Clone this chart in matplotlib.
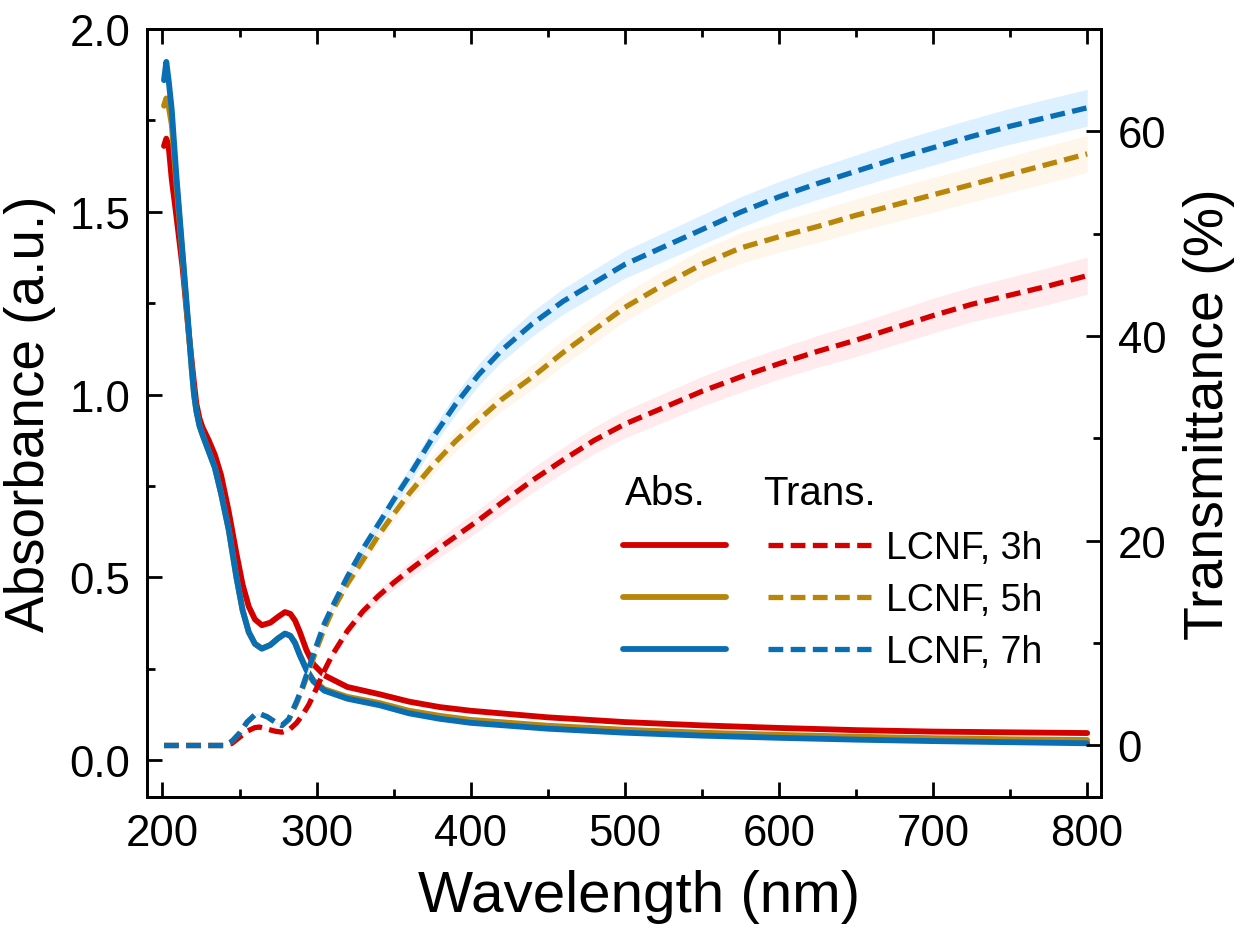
import matplotlib
matplotlib.use("Agg")
import matplotlib.pyplot as plt
from matplotlib.ticker import MultipleLocator, FormatStrFormatter

plt.rcParams['font.family'] = ['Liberation Sans', 'DejaVu Sans']

# absorbance spectra (a.u.)
wl_abs = [201, 202.5, 204, 206, 209, 213, 217, 219, 220.5, 222, 224, 226, 230,
          234, 238, 243, 248, 252, 256, 260, 264.5, 270, 275, 279.5, 283, 286,
          289, 293.5, 298, 305, 320, 341, 360, 380, 400, 450, 500, 550, 600, 650,
          700, 750, 800]
abs_3h = [1.68, 1.70, 1.68, 1.59, 1.49, 1.35, 1.17, 1.09, 1.03, 0.975, 0.935,
          0.91, 0.875, 0.835, 0.78, 0.68, 0.565, 0.48, 0.42, 0.385, 0.369, 0.376,
          0.392, 0.405, 0.400, 0.382, 0.352, 0.30, 0.262, 0.232, 0.20, 0.18, 0.16,
          0.145, 0.135, 0.117, 0.104, 0.095, 0.088, 0.082, 0.078, 0.076, 0.074]
abs_5h = [1.79, 1.81, 1.79, 1.74, 1.58, 1.38, 1.17, 1.07, 1.00, 0.955, 0.915,
          0.89, 0.845, 0.80, 0.73, 0.63, 0.50, 0.41, 0.35, 0.318, 0.305, 0.315,
          0.333, 0.346, 0.340, 0.322, 0.29, 0.248, 0.218, 0.194, 0.173, 0.156,
          0.135, 0.121, 0.110, 0.094, 0.083, 0.075, 0.069, 0.064, 0.060, 0.057,
          0.055]
abs_7h = [1.86, 1.91, 1.86, 1.78, 1.60, 1.39, 1.18, 1.07, 1.00, 0.955, 0.915,
          0.89, 0.845, 0.80, 0.73, 0.63, 0.50, 0.41, 0.35, 0.318, 0.305, 0.315,
          0.333, 0.346, 0.340, 0.320, 0.288, 0.246, 0.215, 0.19, 0.168, 0.15,
          0.128, 0.113, 0.102, 0.086, 0.075, 0.067, 0.061, 0.056, 0.052, 0.049,
          0.046]

# transmittance spectra (%)
wl_tr = [201, 240, 245, 250, 255, 260, 263, 268, 273, 277.5, 282, 287, 291, 295,
         300, 305, 310, 320, 330, 340, 350, 360, 375, 390, 405, 420, 440, 460,
         480, 500, 525, 550, 575, 600, 625, 650, 675, 700, 725, 750, 775, 800]
tr_3h = [0, 0, 0.2, 0.8, 1.4, 1.75, 1.8, 1.6, 1.4, 1.3, 1.5, 2.2, 3.0, 4.0,
         5.6, 7.3, 8.8, 11.2, 13.1, 14.6, 15.9, 17.1, 18.8, 20.4, 22.0, 23.7, 25.9,
         27.9, 29.8, 31.4, 33.0, 34.6, 36.0, 37.3, 38.5, 39.6, 40.8, 42.0, 43.1,
         44.0, 44.9, 45.9]
tr_5h = [0, 0, 0.4, 1.2, 2.3, 3.0, 3.1, 2.8, 2.3, 1.95, 2.5, 4.1, 5.6, 7.3,
         9.4, 11.4, 13.1, 15.8, 18.1, 20.5, 22.6, 24.6, 27.3, 29.7, 31.8, 33.8, 36.0,
         38.4, 40.6, 42.8, 45.0, 47.0, 48.6, 49.7, 50.7, 51.8, 52.8, 53.8, 54.8,
         55.8, 56.8, 57.8]
tr_7h = [0, 0, 0.4, 1.2, 2.3, 3.0, 3.1, 2.8, 2.3, 1.95, 2.6, 4.3, 5.8, 7.6,
         9.8, 11.9, 13.5, 16.5, 19.2, 21.6, 24.0, 26.3, 30.0, 33.3, 36.2, 38.6, 41.2,
         43.4, 45.2, 47.0, 48.7, 50.4, 52.1, 53.6, 54.9, 56.1, 57.3, 58.4, 59.5,
         60.5, 61.4, 62.3]
# spread of the transmittance measurement (+/- %)
tr_spread = [0, 0, 0, 0.05, 0.05, 0.1, 0.1, 0.1, 0.1, 0.1, 0.1, 0.15, 0.15, 0.2,
             0.2, 0.3, 0.35, 0.45, 0.55, 0.6, 0.7, 0.8, 0.9, 1.0, 1.05, 1.1, 1.2,
             1.25, 1.3, 1.35, 1.4, 1.45, 1.5, 1.5, 1.55, 1.6, 1.65, 1.7, 1.7,
             1.75, 1.8, 1.8]

labels = ['LCNF, 3h', 'LCNF, 5h', 'LCNF, 7h']
colors = ['#D40000', '#B8860B', '#0A6EB4']
bands = ['#FFEBEE', '#FEF6EA', '#DDF0FF']

fig = plt.figure(figsize=(12.43, 9.37), dpi=100)
ax = fig.add_axes([0.1183, 0.1487, 0.7675, 0.8193])
ax2 = ax.twinx()

abs_lines = []
for a, c in zip([abs_3h, abs_5h, abs_7h], colors):
    ln, = ax.plot(wl_abs, a, color=c, lw=4.2, solid_capstyle='round',
                  solid_joinstyle='round')
    abs_lines.append(ln)

tr_lines = []
for t, c, b in zip([tr_3h, tr_5h, tr_7h], colors, bands):
    lo = [v - s for v, s in zip(t, tr_spread)]
    hi = [v + s for v, s in zip(t, tr_spread)]
    ax2.fill_between(wl_tr, lo, hi, color=b, lw=0)
    ln, = ax2.plot(wl_tr, t, color=c, lw=3.8, ls=(0, (2.8, 1.4)))
    tr_lines.append(ln)

ax.set_xlim(190, 809)
ax.set_ylim(-0.1, 2.0)
ax2.set_ylim(-5, 70)

ax.xaxis.set_major_locator(MultipleLocator(100))
ax.xaxis.set_minor_locator(MultipleLocator(50))
ax.yaxis.set_major_locator(MultipleLocator(0.5))
ax.yaxis.set_minor_locator(MultipleLocator(0.25))
ax.yaxis.set_major_formatter(FormatStrFormatter('%.1f'))
ax2.yaxis.set_major_locator(MultipleLocator(20))
ax2.yaxis.set_minor_locator(MultipleLocator(10))

ax.tick_params(which='both', direction='in', width=2, top=True, right=False,
               labelsize=31.5, pad=12)
ax.tick_params(which='major', length=11)
ax.tick_params(which='minor', length=6)
ax2.tick_params(which='both', direction='in', width=2, labelsize=31.5, pad=12)
ax2.tick_params(which='major', length=11)
ax2.tick_params(which='minor', length=6)
for a_ in (ax, ax2):
    for sp in a_.spines.values():
        sp.set_linewidth(2)

ax.set_xlabel('Wavelength (nm)', fontsize=42)
ax.xaxis.set_label_coords(0.516, -0.094)
ax.set_ylabel('Absorbance (a.u.)', fontsize=39.5, labelpad=10)
ax2.set_ylabel('Transmittance (%)', fontsize=40, labelpad=12)

# two-column legend: solid = absorbance, dashed = transmittance
leg = ax2.legend(abs_lines + tr_lines, ['', '', ''] + labels, ncol=2,
                 loc='upper left', bbox_to_anchor=(0.499, 0.347), frameon=False,
                 fontsize=27, handlelength=2.75, handletextpad=0.4,
                 columnspacing=0.72, labelspacing=0.42, borderpad=0,
                 borderaxespad=0)
ax2.text(0.501, 0.381, 'Abs.', transform=ax.transAxes, fontsize=29, va='baseline')
ax2.text(0.6457, 0.381, 'Trans.', transform=ax.transAxes, fontsize=29, va='baseline')

fig.savefig('out.png', dpi=100)
